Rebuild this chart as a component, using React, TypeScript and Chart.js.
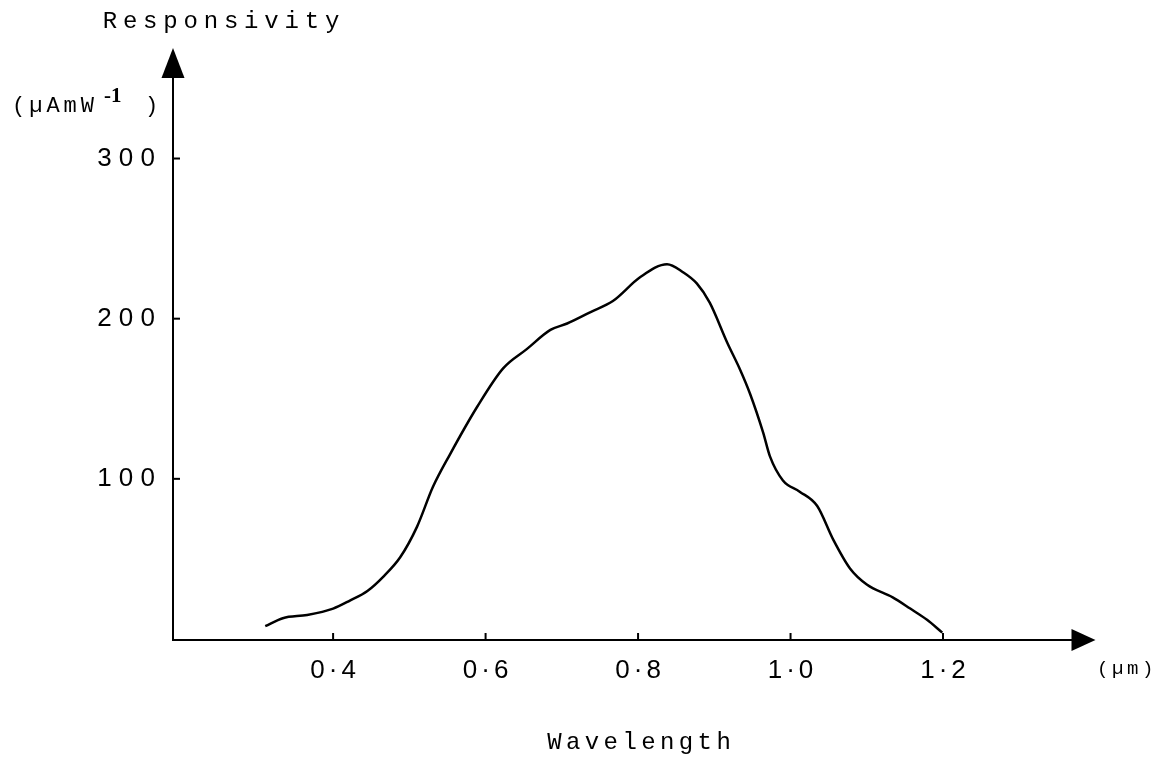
import React, { useEffect, useRef } from "react";
import { Chart, registerables } from "chart.js";

Chart.register(...registerables);

// Wavelength (µm) and responsivity (µA/mW)
const wavelength = [
  0.311, 0.334, 0.366, 0.4, 0.422, 0.445, 0.466, 0.488, 0.51, 0.531, 0.553,
  0.589, 0.623, 0.654, 0.685, 0.707, 0.737, 0.767, 0.803, 0.838, 0.859,
  0.877, 0.894, 0.917, 0.934, 0.947, 0.964, 0.973, 0.99, 1.012, 1.035, 1.056,
  1.078, 1.1, 1.134, 1.157, 1.179, 1.199,
];
const responsivity = [
  8, 13, 15, 19, 24, 30, 39, 51, 70, 95, 115, 145, 169, 181, 193, 197, 204,
  211, 226, 234, 229, 222, 210, 185, 168, 153, 129, 114, 99, 92, 83, 62, 44,
  34, 26, 19, 12, 4,
];

const xTicks = [0.4, 0.6, 0.8, 1.0, 1.2];
const xTickLabels = ["0·4", "0·6", "0·8", "1·0", "1·2"];
const yTicks = [100, 200, 300];
const yTickLabels = ["1 0 0", "2 0 0", "3 0 0"];

const X_MIN = 0.19;
const X_MAX = 1.4;
const Y_MIN = 0;
const Y_MAX = 369;

const yTitle = "Responsivity";
const yUnit = "(µAmW";
const yUnitSup = "-1";
const xTitle = "Wavelength";
const xUnit = "(µm)";

function spacedText(
  ctx: CanvasRenderingContext2D,
  text: string,
  x: number,
  y: number,
  font: string,
  spacing: number,
  align: CanvasTextAlign
) {
  ctx.save();
  ctx.font = font;
  (ctx as any).letterSpacing = spacing + "px";
  ctx.textAlign = align;
  ctx.textBaseline = "middle";
  ctx.fillStyle = "#000";
  let dx = 0;
  if (align === "center") dx = spacing / 2;
  ctx.fillText(text, x + dx, y);
  ctx.restore();
}

const axesPlugin = {
  id: "handAxes",
  afterDraw(chart: any) {
    const ctx: CanvasRenderingContext2D = chart.ctx;
    const xs = chart.scales.x;
    const ys = chart.scales.y;
    const x0 = xs.getPixelForValue(X_MIN);
    const y0 = ys.getPixelForValue(Y_MIN);
    const yTop = ys.getPixelForValue(Y_MAX);
    const xEnd = xs.getPixelForValue(X_MAX);

    ctx.save();
    ctx.strokeStyle = "#000";
    ctx.fillStyle = "#000";
    ctx.lineWidth = 2;
    // y axis
    ctx.beginPath();
    ctx.moveTo(x0, y0 + 1);
    ctx.lineTo(x0, yTop + 28);
    ctx.stroke();
    ctx.beginPath();
    ctx.moveTo(x0, yTop);
    ctx.lineTo(x0 - 11.5, yTop + 30);
    ctx.lineTo(x0 + 11.5, yTop + 30);
    ctx.closePath();
    ctx.fill();
    // x axis
    ctx.beginPath();
    ctx.moveTo(x0 - 1, y0 + 1);
    ctx.lineTo(xEnd - 22, y0 + 1);
    ctx.stroke();
    ctx.beginPath();
    ctx.moveTo(xEnd, y0 + 1);
    ctx.lineTo(xEnd - 24, y0 + 1 - 11);
    ctx.lineTo(xEnd - 24, y0 + 1 + 11);
    ctx.closePath();
    ctx.fill();

    // ticks
    ctx.lineWidth = 2;
    yTicks.forEach((v, i) => {
      const py = ys.getPixelForValue(v);
      ctx.beginPath();
      ctx.moveTo(x0, py);
      ctx.lineTo(x0 + 7, py);
      ctx.stroke();
      spacedText(ctx, yTickLabels[i], x0 - 18, py, "26px 'Liberation Sans'", 0, "right");
    });
    xTicks.forEach((v, i) => {
      const px = xs.getPixelForValue(v);
      ctx.beginPath();
      ctx.moveTo(px, y0 + 1);
      ctx.lineTo(px, y0 - 6);
      ctx.stroke();
      spacedText(ctx, xTickLabels[i], px, y0 + 32, "26px 'Liberation Sans'", 4, "center");
    });
    ctx.restore();

    // titles
    spacedText(ctx, yTitle, 221, 22, "24px 'Liberation Mono'", 5.8, "center");
    spacedText(ctx, yUnit, 12, 106, "22px 'Liberation Mono'", 4, "left");
    spacedText(ctx, yUnitSup, 104, 97, "bold 21px 'Liberation Serif'", 0, "left");
    spacedText(ctx, ")", 145, 106, "22px 'Liberation Mono'", 0, "left");
    spacedText(ctx, xTitle, 639, 743, "24px 'Liberation Mono'", 4.4, "center");
    spacedText(ctx, xUnit, 1097, 669, "19px 'Liberation Mono'", 3.6, "left");
  },
};

export default function App() {
  const canvasRef = useRef<HTMLCanvasElement | null>(null);

  useEffect(() => {
    const canvas = canvasRef.current;
    if (!canvas) return;
    const points = wavelength.map((w, i) => ({ x: w, y: responsivity[i] }));
    const chart = new Chart(canvas, {
      type: "line",
      data: {
        datasets: [
          {
            data: points,
            borderColor: "#000",
            borderWidth: 2.5,
            pointRadius: 0,
            fill: false,
            cubicInterpolationMode: "monotone",
          },
        ],
      },
      options: {
        responsive: false,
        animation: false,
        layout: { padding: { left: 173, right: 72.5, top: 48, bottom: 118 } },
        plugins: { legend: { display: false }, tooltip: { enabled: false } },
        scales: {
          x: { type: "linear", min: X_MIN, max: X_MAX, display: false },
          y: { type: "linear", min: Y_MIN, max: Y_MAX, display: false },
        },
      },
      plugins: [axesPlugin],
    });
    return () => chart.destroy();
  }, []);

  return (
    <div style={{ position: "absolute", left: 0, top: 0, width: 1168, height: 757, background: "#fff" }}>
      <canvas ref={canvasRef} width={1168} height={757} />
    </div>
  );
}
